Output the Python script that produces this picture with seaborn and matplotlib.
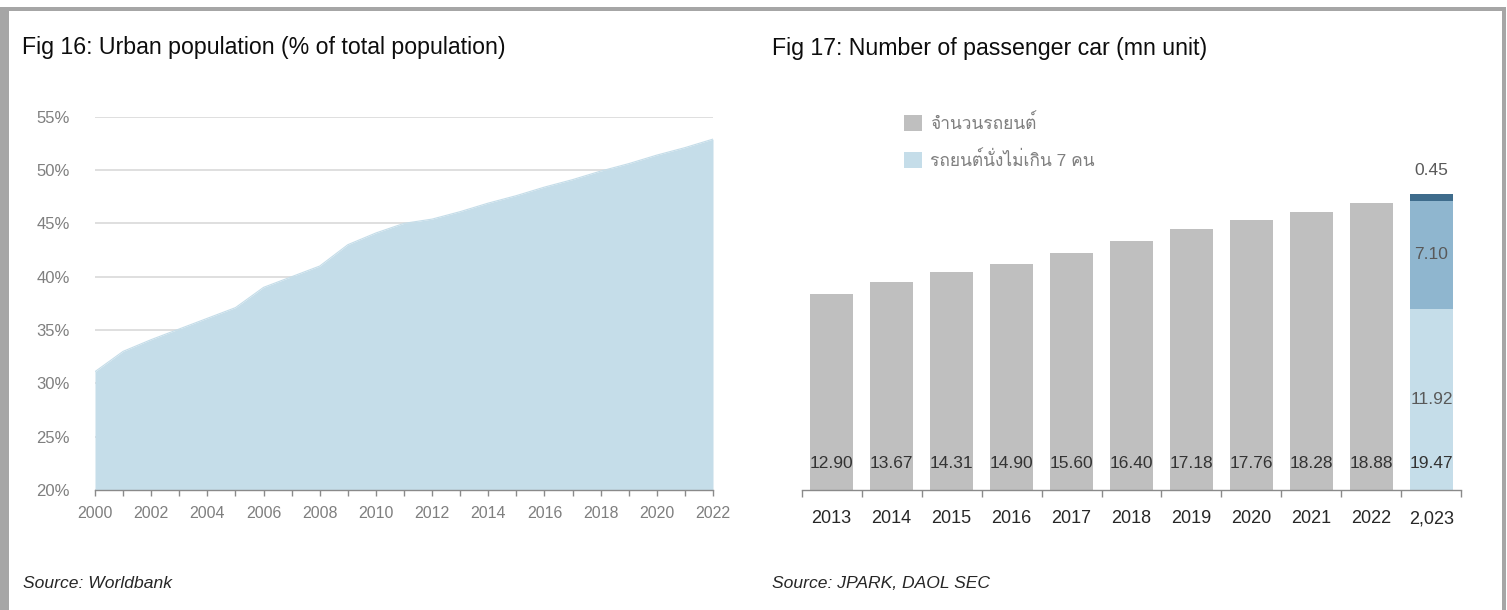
import matplotlib
matplotlib.use("Agg")
import matplotlib.pyplot as plt
from matplotlib.patches import Patch, Rectangle
import seaborn as sns
import pandas as pd

# ---- data ----
years = list(range(2000, 2023))
urban_pct = [31.1, 33.0, 34.1, 35.1, 36.1, 37.1, 39.0, 40.0, 41.0, 43.0, 44.1,
             45.0, 45.4, 46.1, 46.9, 47.6, 48.4, 49.1, 49.9, 50.6, 51.4, 52.1, 52.9]
y_ticks = [20, 25, 30, 35, 40, 45, 50, 55]

car_years = ["2013", "2014", "2015", "2016", "2017", "2018", "2019", "2020", "2021", "2022", "2,023"]
car_total = [12.90, 13.67, 14.31, 14.90, 15.60, 16.40, 17.18, 17.76, 18.28, 18.88, 19.47]
last_parts = [11.92, 7.10, 0.45]
legend_labels = ["จำนวนรถยนต์", "รถยนต์นั่งไม่เกิน 7 คน"]

title_left = "Fig 16: Urban population (% of total population)"
title_right = "Fig 17: Number of passenger car (mn unit)"
source_left = "Source: Worldbank"
source_right = "Source: JPARK, DAOL SEC"

# ---- style ----
sns.set_theme(style="white")
plt.rcParams["font.family"] = ["Liberation Sans", "Loma", "DejaVu Sans"]
FAM = ["Liberation Sans", "Loma", "DejaVu Sans"]

AREA = "#c5dde9"
GRAY_BAR = "#bfbfbf"
MID_BLUE = "#8fb6cf"
DARK_BLUE = "#3e6c8c"
AXIS = "#8a8a8a"
GRID = "#d9d9d9"

W, H = 1507, 610
fig = plt.figure(figsize=(W / 100, H / 100), dpi=100)


def fx(x):
    return x / W


def fy(y):
    return 1 - y / H


# outer frame: left, top, right bands
for (x0, y0, w, h) in [(0, 0, 9, 602), (0, 599.5, 1506, 3), (1502, 0, 4, 602)]:
    fig.patches.append(Rectangle((fx(x0), y0 / H), w / W, h / H,
                                 transform=fig.transFigure, color="#a6a6a6", lw=0))

# ---- left: urban population area ----
ax1 = fig.add_axes([fx(95), fy(490), 618 / W, (490 - 116.7) / H])
df1 = pd.DataFrame({"year": years, "urban": urban_pct})
sns.lineplot(data=df1, x="year", y="urban", ax=ax1, color=AREA, lw=0.8)
ax1.fill_between(df1["year"], 20, df1["urban"], color=AREA, lw=0, zorder=2)
ax1.set_xlim(2000, 2022)
ax1.set_ylim(20, 55)
ax1.set_yticks(y_ticks)
ax1.set_yticklabels([f"{v}%" for v in y_ticks])
ax1.yaxis.grid(True, color=GRID, lw=1.2, zorder=0)
ax1.set_axisbelow(True)
ax1.set_xticks(years[::2])
ax1.set_xticks(years, minor=True)
ax1.set_xticklabels([str(y) for y in years[::2]])
ax1.tick_params(axis="y", length=0, pad=18, labelsize=12, labelcolor="#7f7f7f")
ax1.tick_params(axis="x", which="both", direction="out", length=4.5, width=1,
                color=AXIS, bottom=True)
ax1.tick_params(axis="x", which="major", pad=7, labelsize=11.5, labelcolor="#7f7f7f")
for s in ["left", "top", "right"]:
    ax1.spines[s].set_visible(False)
ax1.spines["bottom"].set_color(AXIS)
ax1.spines["bottom"].set_linewidth(1)
ax1.spines["bottom"].set_zorder(3)
ax1.set_xlabel("")
ax1.set_ylabel("")

# ---- right: passenger car bars ----
scale = 15.2  # px per unit
ax2 = fig.add_axes([fx(801.6), fy(490), 659.8 / W, 390 / H])
df2 = pd.DataFrame({"year": car_years[:-1], "total": car_total[:-1]})
sns.barplot(data=df2, x="year", y="total", order=car_years, ax=ax2,
            color=GRAY_BAR, width=0.73, saturation=1, edgecolor="none")
# last year split into segments
i_last = len(car_years) - 1
bottom = 0
for val, col in zip(last_parts, [AREA, MID_BLUE, DARK_BLUE]):
    ax2.bar(i_last, val, bottom=bottom, width=0.73, color=col, lw=0)
    bottom += val

ax2.set_xlim(-0.5, len(car_years) - 0.5)
ax2.set_ylim(0, 390 / scale)
ax2.set_yticks([])
ax2.set_xticks(range(len(car_years)))
ax2.set_xticklabels(car_years)
ax2.set_xticks([i - 0.5 for i in range(len(car_years) + 1)], minor=True)
ax2.tick_params(axis="x", which="major", length=0, pad=14.5, labelsize=13, labelcolor="#262626")
ax2.tick_params(axis="x", which="minor", direction="out", length=5, width=1, color=AXIS, bottom=True)
for s in ["left", "top", "right"]:
    ax2.spines[s].set_visible(False)
ax2.spines["bottom"].set_color(AXIS)
ax2.spines["bottom"].set_linewidth(1)
ax2.set_xlabel("")
ax2.set_ylabel("")

# totals near the base of each bar
for i, v in enumerate(car_total):
    ax2.text(i, 1.72, f"{v:.2f}", ha="center", va="center", fontsize=12.5, color="#333333")
# segment labels for the last bar
seg_bottom = 0
for k, val in enumerate(last_parts):
    if k < 2:
        ax2.text(i_last, seg_bottom + val / 2, f"{val:.2f}", ha="center", va="center",
                 fontsize=12.5, color="#595959")
    else:
        ax2.text(i_last, seg_bottom + val + 1.55, f"{val:.2f}", ha="center", va="center",
                 fontsize=12.5, color="#595959")
    seg_bottom += val

handles = [Patch(facecolor=GRAY_BAR, edgecolor="none"), Patch(facecolor=AREA, edgecolor="none")]
fig.legend(handles, legend_labels, loc="upper left",
           bbox_to_anchor=(fx(904), fy(113)), bbox_transform=fig.transFigure,
           frameon=False, handlelength=1.05, handleheight=1.05, handletextpad=0.45,
           labelspacing=1.05, borderpad=0, borderaxespad=0,
           prop={"family": FAM, "size": 12.5}, labelcolor="#7f7f7f")

# ---- titles and sources ----
fig.text(fx(22), fy(54), title_left, fontsize=16.7, color="#0d0d0d", va="baseline", ha="left")
fig.text(fx(772), fy(55), title_right, fontsize=16.7, color="#0d0d0d", va="baseline", ha="left")
fig.text(fx(23), fy(588), source_left, fontsize=12.6, style="italic", color="#262626",
         va="baseline", ha="left")
fig.text(fx(772), fy(588), source_right, fontsize=12.6, style="italic", color="#262626",
         va="baseline", ha="left")

fig.savefig("out.png", dpi=100, facecolor="white")
